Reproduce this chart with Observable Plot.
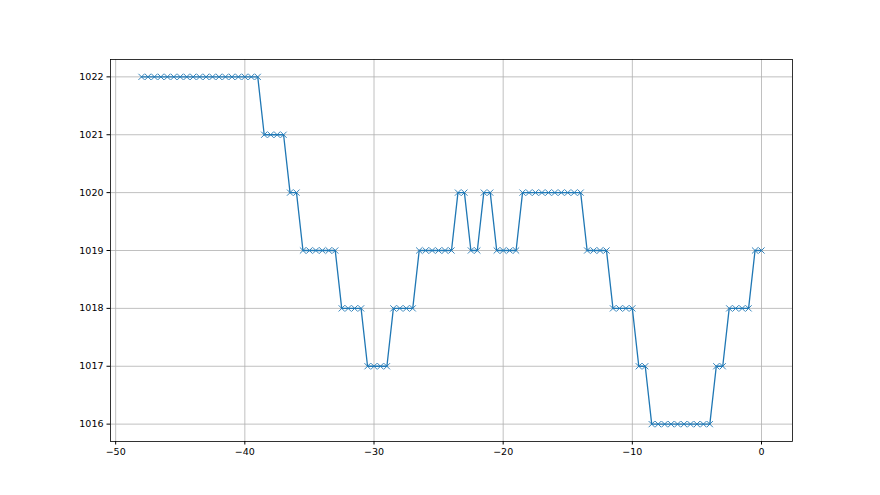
<!DOCTYPE html>
<html>
<head>
<meta charset="utf-8">
<script src="https://cdn.jsdelivr.net/npm/d3@7"></script>
<script src="https://cdn.jsdelivr.net/npm/@observablehq/plot@0.6"></script>
<style>
  html, body { margin: 0; padding: 0; background: #fff; }
  #chart svg { display: block; }
</style>
</head>
<body>
<div id="chart"></div>
<script>
const hours = [
  -48, -47.5, -47, -46.5, -46, -45.5, -45, -44.5, -44, -43.5,
  -43, -42.5, -42, -41.5, -41, -40.5, -40, -39.5, -39, -38.5,
  -38, -37.5, -37, -36.5, -36, -35.5, -35, -34.5, -34, -33.5,
  -33, -32.5, -32, -31.5, -31, -30.5, -30, -29.5, -29, -28.5,
  -28, -27.5, -27, -26.5, -26, -25.5, -25, -24.5, -24, -23.5,
  -23, -22.5, -22, -21.5, -21, -20.5, -20, -19.5, -19, -18.5,
  -18, -17.5, -17, -16.5, -16, -15.5, -15, -14.5, -14, -13.5,
  -13, -12.5, -12, -11.5, -11, -10.5, -10, -9.5, -9, -8.5,
  -8, -7.5, -7, -6.5, -6, -5.5, -5, -4.5, -4, -3.5,
  -3, -2.5, -2, -1.5, -1, -0.5, 0
];
const pressure = [
  1022, 1022, 1022, 1022, 1022, 1022, 1022, 1022, 1022, 1022,
  1022, 1022, 1022, 1022, 1022, 1022, 1022, 1022, 1022, 1021,
  1021, 1021, 1021, 1020, 1020, 1019, 1019, 1019, 1019, 1019,
  1019, 1018, 1018, 1018, 1018, 1017, 1017, 1017, 1017, 1018,
  1018, 1018, 1018, 1019, 1019, 1019, 1019, 1019, 1019, 1020,
  1020, 1019, 1019, 1020, 1020, 1019, 1019, 1019, 1019, 1020,
  1020, 1020, 1020, 1020, 1020, 1020, 1020, 1020, 1020, 1019,
  1019, 1019, 1019, 1018, 1018, 1018, 1018, 1017, 1017, 1016,
  1016, 1016, 1016, 1016, 1016, 1016, 1016, 1016, 1016, 1017,
  1017, 1018, 1018, 1018, 1018, 1019, 1019
];
const xTicks = [-50, -40, -30, -20, -10, 0];
const yTicks = [1016, 1017, 1018, 1019, 1020, 1021, 1022];

const data = hours.map((h, i) => ({x: h, y: pressure[i]}));
const blue = "#1f77b4";

const chart = Plot.plot({
  width: 880,
  height: 495,
  marginLeft: 110,
  marginRight: 88,
  marginTop: 59,
  marginBottom: 54,
  style: {fontFamily: "DejaVu Sans", fontSize: "9.5px", color: "#000", background: "#fff"},
  x: {domain: [-50.4, 2.4], label: null},
  y: {domain: [1015.7, 1022.3], label: null},
  marks: [
    Plot.gridX(xTicks, {stroke: "#b0b0b0", strokeOpacity: 1, strokeWidth: 0.8}),
    Plot.gridY(yTicks, {stroke: "#b0b0b0", strokeOpacity: 1, strokeWidth: 0.8}),
    Plot.line(data, {x: "x", y: "y", stroke: blue, strokeWidth: 1.3}),
    Plot.dot(data, {x: "x", y: "y", symbol: "times", r: 2.9, stroke: blue, strokeWidth: 0.9}),
    Plot.frame({stroke: "#000", strokeWidth: 0.8}),
    Plot.axisX(xTicks, {tickSize: 3.5, tickPadding: 3.5, stroke: "#000", fill: "#000", label: null}),
    Plot.axisY(yTicks, {tickSize: 3.5, tickPadding: 3.5, stroke: "#000", fill: "#000", label: null, tickFormat: d => String(d)})
  ]
});
document.getElementById("chart").appendChild(chart);
</script>
</body>
</html>
